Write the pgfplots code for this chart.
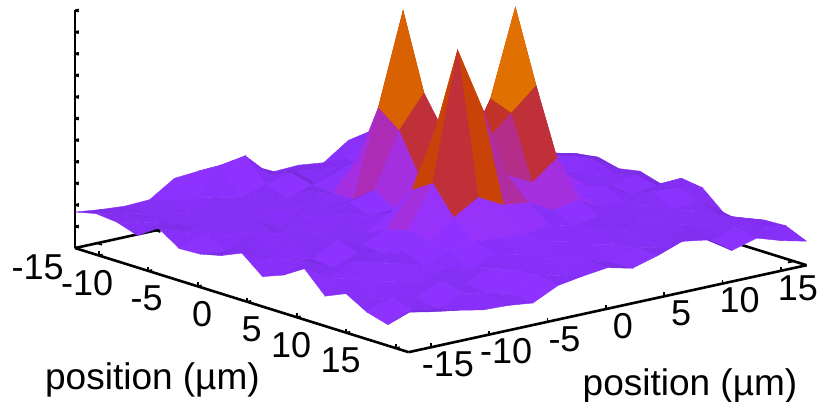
\documentclass[border=0pt]{standalone}
\usepackage{fontspec}
\setmainfont{Liberation Sans}
\usepackage{pgfplots}
\pgfplotsset{compat=1.18}
\begin{document}
\begin{tikzpicture}
\useasboundingbox (-444.5pt,-143.3pt) rectangle (378.5pt,258.7pt);
\begin{axis}[
  disabledatascaling, anchor=origin, at={(0pt,0pt)},
  x={(9.9pt,-3.09pt)}, y={(11.67pt,2.55pt)}, z={(0pt,1pt)},
  xmin=-17.4,xmax=16.3,ymin=-16.9,ymax=17.2,zmin=0,zmax=238,
  clip=false,
  axis x line*=bottom, axis y line*=left, axis z line*=left,
  axis line style={black,line width=2.6pt,-},
  tick style={black,line width=1.8pt},
  tick align=inside, major tick length=4pt,
  xtick={-15,-10,-5,0,5,10,15}, ytick={-15,-10,-5,0,5,10,15},
  xticklabels={-15,-10,-5,0,5,10,15}, yticklabels={-15,-10,-5,0,5,10,15},
  ztick={0,21.6,43.2,64.8,86.4,108,129.6,151.2,172.8,194.4,216,237.6},
  zticklabels={},
  tick label style={font=\fontsize{36}{36}\selectfont},
  xticklabel style={anchor=east,inner sep=0pt,xshift=-35pt,yshift=-12pt},
  yticklabel style={anchor=center,inner sep=0pt,xshift=17pt,yshift=-17pt},
  xlabel={position (µm)}, ylabel={position (µm)},
  label style={font=\fontsize{37}{37}\selectfont},
  xlabel style={at={(axis cs:-29.5,0,-212.6)},anchor=center,rotate=0,sloped=false},
  ylabel style={at={(axis cs:24.8,0,-50.7)},anchor=center,rotate=0,sloped=false},
  colormap={pm}{rgb255=(90,28,170) rgb255=(97,31,182) rgb255=(106,35,198) rgb255=(130,46,240) rgb255=(140,50,255) rgb255=(146,50,255) rgb255=(150,50,250) rgb255=(163,47,229) rgb255=(169,45,200) rgb255=(175,44,171) rgb255=(177,44,156) rgb255=(192,48,56) rgb255=(192,48,56) rgb255=(195,55,25) rgb255=(204,71,0) rgb255=(216,95,0) rgb255=(221,105,0) rgb255=(224,112,0)},
  point meta min=0, point meta max=170,
]
\addplot3[black,line width=2.6pt,forget plot] coordinates {(-17.4,-16.9,0) (-17.4,17.2,0) (16.3,17.2,0)};
\addplot3[black,line width=1.8pt,forget plot] coordinates {(-17.4,-15,0) (-16.9,-15,0)};
\addplot3[black,line width=1.8pt,forget plot] coordinates {(-17.4,-10,0) (-16.9,-10,0)};
\addplot3[black,line width=1.8pt,forget plot] coordinates {(15,17.2,0) (15,16.7,0)};
\addplot3[surf,shader=flat corner,z buffer=none,mesh/rows=17,mesh/cols=17,mesh/ordering=y varies,point meta=explicit]
table[x=a,y=b,z=z,meta=m,row sep=\\]{
a b z m\\
-17.4 17.2 42 29\\ -17.4 15.07 43 27\\ -17.4 12.93 54 32\\ -17.4 10.80 50 26\\ -17.4 8.67 53 35\\ -17.4 6.54 48 37\\ -17.4 4.41 31 30\\ -17.4 2.28 34 29\\ -17.4 0.15 33 27\\ -17.4 -1.98 45 23\\ -17.4 -4.11 45 30\\ -17.4 -6.25 50 43\\ -17.4 -8.38 48 40\\ -17.4 -10.51 32 34\\ -17.4 -12.64 31 30\\ -17.4 -14.77 33 28\\ -17.4 -16.9 36 33\\
-15.29 17.2 44 34\\ -15.29 15.07 48 32\\ -15.29 12.93 52 26\\ -15.29 10.80 55 31\\ -15.29 8.67 60 38\\ -15.29 6.54 50 40\\ -15.29 4.41 42 30\\ -15.29 2.28 36 34\\ -15.29 0.15 40 26\\ -15.29 -1.98 42 32\\ -15.29 -4.11 66 46\\ -15.29 -6.25 62 38\\ -15.29 -8.38 35 36\\ -15.29 -10.51 38 33\\ -15.29 -12.64 30 31\\ -15.29 -14.77 36 31\\ -15.29 -16.9 41 33\\
-13.19 17.2 46 32\\ -13.19 15.07 42 26\\ -13.19 12.93 50 26\\ -13.19 10.80 62 37\\ -13.19 8.67 58 30\\ -13.19 6.54 52 34\\ -13.19 4.41 40 30\\ -13.19 2.28 46 29\\ -13.19 0.15 34 26\\ -13.19 -1.98 50 42\\ -13.19 -4.11 44 32\\ -13.19 -6.25 36 34\\ -13.19 -8.38 42 33\\ -13.19 -10.51 30 33\\ -13.19 -12.64 38 32\\ -13.19 -14.77 33 34\\ -13.19 -16.9 39 33\\
-11.08 17.2 45 34\\ -11.08 15.07 48 28\\ -11.08 12.93 52 33\\ -11.08 10.80 60 33\\ -11.08 8.67 56 38\\ -11.08 6.54 62 59\\ -11.08 4.41 50 65\\ -11.08 2.28 45 67\\ -11.08 0.15 52 39\\ -11.08 -1.98 44 29\\ -11.08 -4.11 36 34\\ -11.08 -6.25 46 32\\ -11.08 -8.38 34 34\\ -11.08 -10.51 42 32\\ -11.08 -12.64 30 29\\ -11.08 -14.77 40 29\\ -11.08 -16.9 32 33\\
-8.98 17.2 32 24\\ -8.98 15.07 44 29\\ -8.98 12.93 56 32\\ -8.98 10.80 52 33\\ -8.98 8.67 60 40\\ -8.98 6.54 55 71\\ -8.98 4.41 70 123\\ -8.98 2.28 100 130\\ -8.98 0.15 70 71\\ -8.98 -1.98 43 35\\ -8.98 -4.11 50 33\\ -8.98 -6.25 34 36\\ -8.98 -8.38 48 34\\ -8.98 -10.51 32 32\\ -8.98 -12.64 44 34\\ -8.98 -14.77 36 36\\ -8.98 -16.9 46 33\\
-6.87 17.2 40 26\\ -6.87 15.07 46 28\\ -6.87 12.93 50 34\\ -6.87 10.80 58 34\\ -6.87 8.67 52 26\\ -6.87 6.54 60 71\\ -6.87 4.41 100 131\\ -6.87 2.28 221 152\\ -6.87 0.15 129 86\\ -6.87 -1.98 43 27\\ -6.87 -4.11 40 32\\ -6.87 -6.25 50 33\\ -6.87 -8.38 30 29\\ -6.87 -10.51 46 34\\ -6.87 -12.64 34 36\\ -6.87 -14.77 42 39\\ -6.87 -16.9 32 33\\
-4.76 17.2 43 27\\ -4.76 15.07 50 37\\ -4.76 12.93 54 34\\ -4.76 10.80 48 25\\ -4.76 8.67 56 67\\ -4.76 6.54 62 69\\ -4.76 4.41 60 95\\ -4.76 2.28 145 112\\ -4.76 0.15 113 72\\ -4.76 -1.98 59 43\\ -4.76 -4.11 52 33\\ -4.76 -6.25 42 36\\ -4.76 -8.38 50 34\\ -4.76 -10.51 36 36\\ -4.76 -12.64 44 33\\ -4.76 -14.77 30 28\\ -4.76 -16.9 33 33\\
-2.66 17.2 38 29\\ -2.66 15.07 52 36\\ -2.66 12.93 44 25\\ -2.66 10.80 52 65\\ -2.66 8.67 60 118\\ -2.66 6.54 90 134\\ -2.66 4.41 65 106\\ -2.66 2.28 111 92\\ -2.66 0.15 72 65\\ -2.66 -1.98 47 28\\ -2.66 -4.11 44 36\\ -2.66 -6.25 52 34\\ -2.66 -8.38 38 34\\ -2.66 -10.51 48 34\\ -2.66 -12.64 32 32\\ -2.66 -14.77 44 31\\ -2.66 -16.9 38 33\\
-0.55 17.2 42 28\\ -0.55 15.07 44 33\\ -0.55 12.93 48 32\\ -0.55 10.80 56 65\\ -0.55 8.67 90 137\\ -0.55 6.54 233 170\\ -0.55 4.41 147 125\\ -0.55 2.28 100 108\\ -0.55 0.15 85 103\\ -0.55 -1.98 55 84\\ -0.55 -4.11 55 50\\ -0.55 -6.25 40 33\\ -0.55 -8.38 50 33\\ -0.55 -10.51 36 33\\ -0.55 -12.64 46 36\\ -0.55 -14.77 34 36\\ -0.55 -16.9 47 33\\
1.55 17.2 36 26\\ 1.55 15.07 50 38\\ 1.55 12.93 44 25\\ 1.55 10.80 50 42\\ 1.55 8.67 63 92\\ 1.55 6.54 161 118\\ 1.55 4.41 139 102\\ 1.55 2.28 117 124\\ 1.55 0.15 130 165\\ 1.55 -1.98 143 137\\ 1.55 -4.11 84 72\\ 1.55 -6.25 50 41\\ 1.55 -8.38 40 30\\ 1.55 -10.51 50 44\\ 1.55 -12.64 36 26\\ 1.55 -14.77 42 36\\ 1.55 -16.9 30 33\\
3.66 17.2 48 32\\ 3.66 15.07 46 29\\ 3.66 12.93 42 32\\ 3.66 10.80 56 38\\ 3.66 8.67 50 63\\ 3.66 6.54 95 72\\ 3.66 4.41 76 72\\ 3.66 2.28 89 97\\ 3.66 0.15 161 137\\ 3.66 -1.98 225 119\\ 3.66 -4.11 97 60\\ 3.66 -6.25 55 39\\ 3.66 -8.38 38 32\\ 3.66 -10.51 44 30\\ 3.66 -12.64 34 32\\ 3.66 -14.77 46 30\\ 3.66 -16.9 38 33\\
5.77 17.2 45 34\\ 5.77 15.07 50 40\\ 5.77 12.93 52 34\\ 5.77 10.80 44 34\\ 5.77 8.67 48 32\\ 5.77 6.54 60 42\\ 5.77 4.41 55 35\\ 5.77 2.28 68 55\\ 5.77 0.15 71 60\\ 5.77 -1.98 84 60\\ 5.77 -4.11 69 46\\ 5.77 -6.25 50 41\\ 5.77 -8.38 46 33\\ 5.77 -10.51 40 37\\ 5.77 -12.64 48 37\\ 5.77 -14.77 36 37\\ 5.77 -16.9 51 33\\
7.87 17.2 27 27\\ 7.87 15.07 44 32\\ 7.87 12.93 40 34\\ 7.87 10.80 50 34\\ 7.87 8.67 42 33\\ 7.87 6.54 50 33\\ 7.87 4.41 46 36\\ 7.87 2.28 52 36\\ 7.87 0.15 48 38\\ 7.87 -1.98 50 36\\ 7.87 -4.11 52 44\\ 7.87 -6.25 48 37\\ 7.87 -8.38 38 37\\ 7.87 -10.51 46 37\\ 7.87 -12.64 34 37\\ 7.87 -14.77 42 35\\ 7.87 -16.9 30 33\\
9.98 17.2 23 22\\ 9.98 15.07 36 34\\ 9.98 12.93 46 34\\ 9.98 10.80 38 34\\ 9.98 8.67 48 34\\ 9.98 6.54 42 34\\ 9.98 4.41 50 36\\ 9.98 2.28 42 36\\ 9.98 0.15 48 37\\ 9.98 -1.98 40 36\\ 9.98 -4.11 46 34\\ 9.98 -6.25 36 34\\ 9.98 -8.38 42 33\\ 9.98 -10.51 32 34\\ 9.98 -12.64 40 36\\ 9.98 -14.77 28 34\\ 9.98 -16.9 39 33\\
12.08 17.2 32 30\\ 12.08 15.07 40 32\\ 12.08 12.93 34 33\\ 12.08 10.80 44 30\\ 12.08 8.67 36 32\\ 12.08 6.54 46 34\\ 12.08 4.41 40 37\\ 12.08 2.28 46 36\\ 12.08 0.15 38 37\\ 12.08 -1.98 42 36\\ 12.08 -4.11 36 41\\ 12.08 -6.25 44 42\\ 12.08 -8.38 34 32\\ 12.08 -10.51 42 44\\ 12.08 -12.64 30 33\\ 12.08 -14.77 36 43\\ 12.08 -16.9 27 33\\
14.19 17.2 33 35\\ 14.19 15.07 36 32\\ 14.19 12.93 42 40\\ 14.19 10.80 34 24\\ 14.19 8.67 48 31\\ 14.19 6.54 38 30\\ 14.19 4.41 44 39\\ 14.19 2.28 34 28\\ 14.19 0.15 42 36\\ 14.19 -1.98 32 32\\ 14.19 -4.11 38 44\\ 14.19 -6.25 24 32\\ 14.19 -8.38 30 36\\ 14.19 -10.51 36 36\\ 14.19 -12.64 26 27\\ 14.19 -14.77 30 26\\ 14.19 -16.9 21 33\\
16.3 17.2 24 33\\ 16.3 15.07 30 33\\ 16.3 12.93 38 33\\ 16.3 10.80 31 33\\ 16.3 8.67 47 33\\ 16.3 6.54 51 33\\ 16.3 4.41 42 33\\ 16.3 2.28 35 33\\ 16.3 0.15 41 33\\ 16.3 -1.98 38 33\\ 16.3 -4.11 34 33\\ 16.3 -6.25 22 33\\ 16.3 -8.38 25 33\\ 16.3 -10.51 26 33\\ 16.3 -12.64 31 33\\ 16.3 -14.77 35 33\\ 16.3 -16.9 40 33\\
};
\end{axis}
\end{tikzpicture}
\end{document}
